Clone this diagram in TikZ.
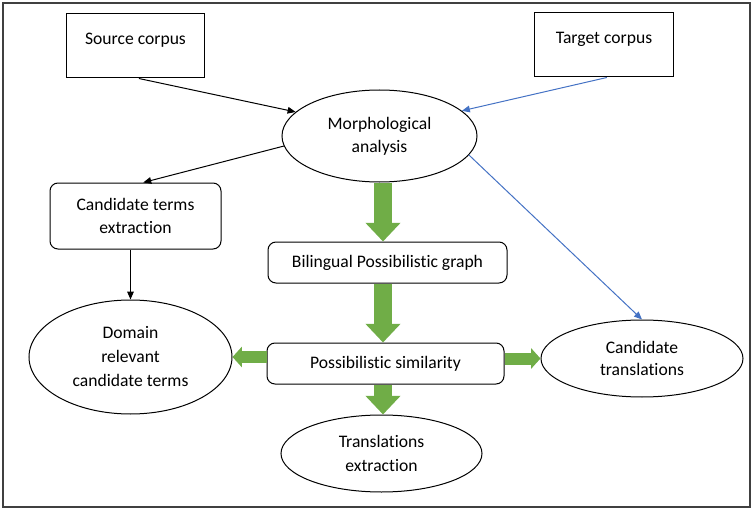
\documentclass[tikz,border=0pt]{standalone}
\usepackage{fontspec}
\setmainfont{Carlito}[Ligatures=NoCommon]
\usetikzlibrary{shapes.geometric,arrows.meta}

\definecolor{flowgreen}{RGB}{112,173,71}
\definecolor{linkblue}{RGB}{68,114,196}
\definecolor{framegray}{RGB}{64,64,64}

\begin{document}
\begin{tikzpicture}[x=0.75pt,y=0.75pt,yscale=-1,xscale=1,
  every node/.style={font=\fontsize{13.2}{17}\selectfont,align=center,inner sep=0pt,line width=0.75pt},
  corpus/.style={draw,rectangle,minimum width=104pt,text height=23.25pt,text depth=24.75pt},
  stepbox/.style={draw,rectangle,rounded corners=6pt},
  result/.style={draw,ellipse},
  wide/.style={font=\fontsize{13.2}{18}\selectfont},
  feed/.style={line width=0.75pt,-{Triangle[length=6pt,width=5pt]}},
  flow/.style={flowgreen,line width=13.5pt,-{Triangle[length=14pt,width=25.5pt]}},
  sideflow/.style={flowgreen,line width=9pt,-{Triangle[length=7pt,width=15pt]}}]
\useasboundingbox (0,0) rectangle (754,510);

%frame
\draw [framegray,line width=1.1pt] (3,3) rectangle (750,507);

% Text Node
\node [corpus] (src) at (135.5,46) {Source corpus};
% Text Node
\node [corpus] (tgt) at (604,45) {Target corpus};
% Text Node
\node [result,minimum width=146.25pt,minimum height=69pt] (morph) at (379.5,136) {Morphological\\analysis};
% Text Node
\node [stepbox,minimum width=128.25pt,minimum height=49.5pt] (cte) at (135.5,216) {Candidate terms\\extraction};
% Text Node
\node [stepbox,minimum width=179.25pt,minimum height=30.75pt] (big) at (387.5,262.5) {Bilingual Possibilistic graph};
% Text Node
\node [stepbox,minimum width=177.75pt,minimum height=30.75pt] (poss) at (385.5,363.5) {Possibilistic similarity};
% Text Node
\node [result,wide,minimum width=152.25pt,minimum height=85.5pt] (dom) at (130.5,357) {Domain\\relevant\\candidate terms};
% Text Node
\node [result,minimum width=151.5pt,minimum height=57.75pt] (ctr) at (642,358.5) {Candidate\\translations};
% Text Node
\node [result,wide,minimum width=150.75pt,minimum height=57.75pt] (tex) at (381.5,453.5) {Translations\\extraction};

\coordinate (axis) at (383,0);

%Straight Lines
\draw [feed] (src.-84) -- (morph.164);
\draw [feed,linkblue] (tgt.-85) -- (morph.17);
\draw [feed] (morph.186) -- (cte.77);
\draw [feed] (cte.south -| dom.north) -- (dom.north);
\draw [feed,linkblue] (morph.-12) -- (ctr.north);

%Block arrows
\draw [flow] (morph.south -| axis) -- (big.north -| axis);
\draw [flow] (big.south -| axis) -- (poss.north -| axis);
\draw [flow] (poss.south -| axis) -- (tex.north -| axis);
\draw [sideflow] (poss.west |- dom.east) -- (dom.east);
\draw [sideflow] (poss.east |- ctr.west) -- (ctr.west);

\end{tikzpicture}
\end{document}
